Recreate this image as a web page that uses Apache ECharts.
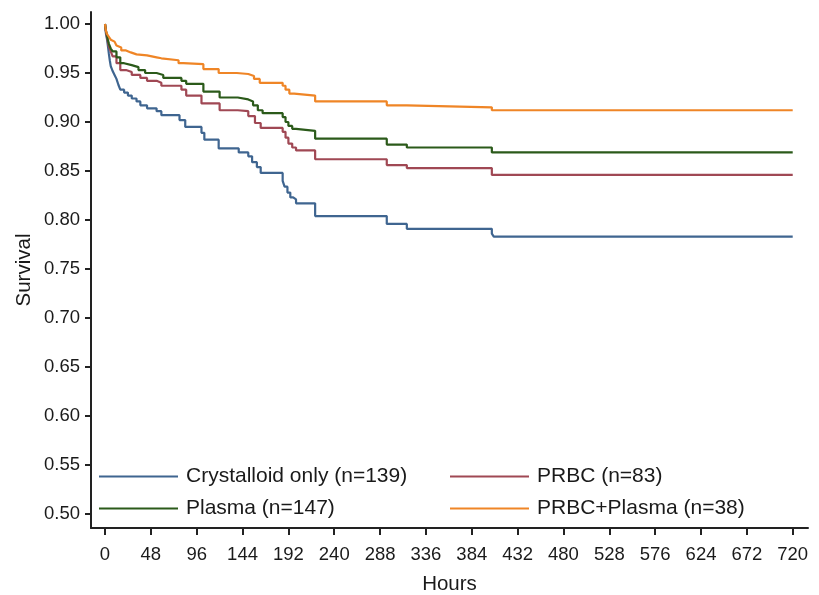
<!DOCTYPE html>
<html>
<head>
<meta charset="utf-8">
<script src="https://cdn.jsdelivr.net/npm/echarts@6/dist/echarts.min.js"></script>
<style>
  html, body { margin: 0; background: #fff; }
  #chart { width: 819px; height: 595px; }
</style>
</head>
<body>
<div id="chart"></div>
<script>
// tick labels
const hourTicks = [0, 48, 96, 144, 192, 240, 288, 336, 384, 432, 480, 528, 576, 624, 672, 720];
const survivalTicks = [0.5, 0.55, 0.6, 0.65, 0.7, 0.75, 0.8, 0.85, 0.9, 0.95, 1.0];

const groupNames = ['Crystalloid only (n=139)', 'PRBC (n=83)', 'Plasma (n=147)', 'PRBC+Plasma (n=38)'];

// [hour, survival after the drop at that hour]
const crystalloid = [
  [0, 1.0], [1, 0.99], [2, 0.985], [3, 0.978], [4, 0.97], [5, 0.963], [6, 0.957],
  [8, 0.952], [10, 0.948], [12, 0.944], [14, 0.938], [16, 0.933], [20, 0.93],
  [24, 0.927], [28, 0.924], [33, 0.921], [37, 0.917], [44, 0.914], [54, 0.911],
  [59, 0.907], [78, 0.902], [84, 0.895], [101, 0.889], [104, 0.882], [119, 0.873],
  [140, 0.869], [150, 0.865], [154, 0.859], [159, 0.854], [163, 0.848], [186, 0.84],
  [188, 0.834], [191, 0.828], [194, 0.823], [197, 0.821], [200, 0.817], [220, 0.804],
  [295, 0.796], [316, 0.791], [405, 0.786], [407, 0.783], [720, 0.783]
];
const prbc = [
  [0, 1.0], [1, 0.992], [2, 0.987], [4, 0.977], [6, 0.972], [8, 0.967], [12, 0.96],
  [16, 0.953], [22, 0.951], [28, 0.948], [37, 0.945], [44, 0.942], [54, 0.94],
  [59, 0.937], [80, 0.933], [85, 0.927], [101, 0.919], [120, 0.912], [139, 0.911],
  [150, 0.906], [157, 0.899], [163, 0.894], [186, 0.89], [189, 0.884], [192, 0.878],
  [196, 0.874], [200, 0.871], [220, 0.862], [295, 0.856], [316, 0.853], [405, 0.846],
  [720, 0.846]
];
const plasma = [
  [0, 1.0], [1, 0.993], [2, 0.989], [3, 0.984], [4, 0.98], [6, 0.975], [8, 0.972],
  [12, 0.966], [16, 0.96], [20, 0.958], [28, 0.956], [35, 0.953], [42, 0.95],
  [54, 0.948], [61, 0.945], [80, 0.942], [85, 0.939], [103, 0.931], [120, 0.925],
  [139, 0.923], [150, 0.921], [155, 0.917], [160, 0.912], [165, 0.909], [186, 0.905],
  [189, 0.9], [192, 0.896], [196, 0.893], [200, 0.891], [220, 0.883], [295, 0.877],
  [316, 0.874], [405, 0.869], [720, 0.869]
];
const prbcPlasma = [
  [0, 1.0], [1, 0.993], [2, 0.99], [4, 0.987], [6, 0.984], [8, 0.982], [10, 0.98],
  [12, 0.978], [14, 0.976], [17, 0.973], [22, 0.971], [27, 0.969], [33, 0.968],
  [44, 0.966], [54, 0.965], [59, 0.963], [77, 0.96], [82, 0.959], [103, 0.954],
  [119, 0.95], [138, 0.949], [150, 0.947], [156, 0.944], [162, 0.94], [186, 0.937],
  [189, 0.933], [193, 0.929], [198, 0.927], [220, 0.921], [295, 0.917], [316, 0.915],
  [405, 0.912], [720, 0.912]
];

const colors = ['#3f6590', '#a04854', '#2b5a1a', '#ef8526'];
const font = "'Liberation Sans', Arial, sans-serif";
const textColor = '#1a1a1a';

const chart = echarts.init(document.getElementById('chart'));

function kmSeries(name, data, color) {
  return {
    name: name,
    type: 'line',
    step: 'end',
    data: data,
    symbol: 'none',
    lineStyle: { color: color, width: 2.2 },
    itemStyle: { color: color },
    emphasis: { disabled: true }
  };
}

const legendBase = {
  orient: 'vertical',
  top: 466,
  padding: 0,
  icon: 'rect',
  itemWidth: 79,
  itemHeight: 2,
  itemGap: 11,
  textStyle: { fontFamily: font, fontSize: 21, color: textColor, padding: [0, 0, 0, 3] }
};

chart.setOption({
  animation: false,
  backgroundColor: '#fff',
  grid: { left: 91, right: 11, top: 12, bottom: 67, outerBoundsMode: 'none' },
  legend: [
    Object.assign({}, legendBase, { left: 99, data: [groupNames[0], groupNames[2]] }),
    Object.assign({}, legendBase, { left: 450, data: [groupNames[1], groupNames[3]] })
  ],
  xAxis: {
    type: 'value',
    min: -14.66,
    max: 736,
    name: 'Hours',
    nameLocation: 'middle',
    nameGap: 46,
    nameMoveOverlap: false,
    nameTextStyle: { fontFamily: font, fontSize: 20.5, color: textColor },
    axisLine: { show: true, onZero: false, lineStyle: { color: '#222', width: 2 } },
    axisTick: { show: true, length: 7, customValues: hourTicks, lineStyle: { color: '#222', width: 2 } },
    axisLabel: {
      customValues: hourTicks,
      fontFamily: font, fontSize: 18.5, color: textColor, margin: 17
    },
    splitLine: { show: false }
  },
  yAxis: {
    type: 'value',
    min: 0.48571,
    max: 1.01224,
    name: 'Survival',
    nameLocation: 'middle',
    nameGap: 56,
    nameRotate: 90,
    nameMoveOverlap: false,
    nameTextStyle: { fontFamily: font, fontSize: 20.5, color: textColor },
    axisLine: { show: true, onZero: false, lineStyle: { color: '#222', width: 2 } },
    axisTick: { show: true, length: 6, customValues: survivalTicks, lineStyle: { color: '#222', width: 2 } },
    axisLabel: {
      customValues: survivalTicks,
      formatter: v => v.toFixed(2),
      fontFamily: font, fontSize: 18.5, color: textColor, margin: 11
    },
    splitLine: { show: false }
  },
  series: [
    kmSeries(groupNames[0], crystalloid, colors[0]),
    kmSeries(groupNames[1], prbc, colors[1]),
    kmSeries(groupNames[2], plasma, colors[2]),
    kmSeries(groupNames[3], prbcPlasma, colors[3])
  ]
});
</script>
</body>
</html>
